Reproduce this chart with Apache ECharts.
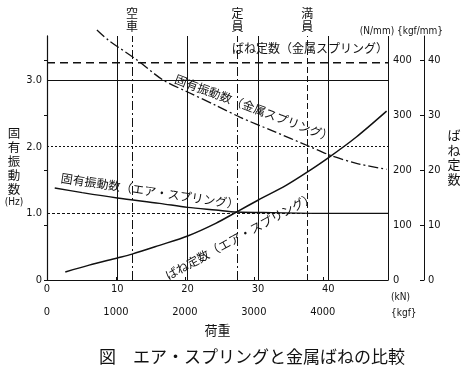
<!DOCTYPE html>
<html>
<head>
<meta charset="utf-8">
<script src="https://cdn.jsdelivr.net/npm/echarts@6/dist/echarts.min.js"></script>
<style>
html, body { margin: 0; padding: 0; background: #fff; }
#chart { width: 475px; height: 376px; }
</style>
</head>
<body>
<div id="chart"></div>
<script>
// 軸の範囲
var kNMax = 48.5
var kgfMax = kNMax / 9.80665 * 1000
var hzMax = 3.66
var nmmMax = 443.6

var kNTicks = [0, 10, 20, 30, 40]
var kgfTicks = [0, 1000, 2000, 3000, 4000]
var hzTicks = [0, 1, 2, 3]
var nmmTicks = [0, 100, 200, 300, 400]
var kgfmmTicks = [0, 10, 20, 30, 40]

// 固有振動数(金属スプリング)
var metalFreqKN = [7.1, 8.7, 12.8, 16.5, 20, 24, 27.5, 32, 37.4, 40.3, 44, 48.3]
var metalFreqHz = [3.75, 3.6, 3.3, 3.0, 2.82, 2.62, 2.44, 2.24, 2.0, 1.87, 1.75, 1.66]

// 固有振動数(エア・スプリング)
var airFreqKN = [1.1, 5, 10, 16, 20, 24, 27, 32, 40, 48.5]
var airFreqHz = [1.38, 1.31, 1.23, 1.15, 1.09, 1.05, 1.02, 1.01, 1.0, 1.0]

// ばね定数(エア・スプリング)
var airKKN = [2.6, 6, 10, 12.1, 16, 20, 24, 27, 30, 34, 37, 40, 44, 48.3]
var airKNmm = [14.5, 27, 40, 47, 63, 80, 103, 124, 145, 172, 196, 222, 260, 307]

// ばね定数(金属スプリング)
var metalKKN = [0, 48.5]
var metalKNmm = [395, 395]

// 空車・定員・満員
var loadMarks = [12.1, 27.1, 37.0]
var loadNames = ['空車', '定員', '満員']

var ink = '#111'
var numFont = '"Liberation Sans Narrow", "DejaVu Sans Condensed", sans-serif'
var jpFont = '"Noto Sans CJK JP", sans-serif'

function pairs(xs, ys) {
	return xs.map((x, i) => [x, ys[i]])
}

var vLines = loadMarks.map((v, i) => ({
	xAxis: v,
	lineStyle: { type: i == 2 ? [6, 3] : [9, 3, 2, 3] },
	label: { show: true, formatter: loadNames[i].split('').join('\n') }
}))
var hLines = [
	{ yAxis: 3, lineStyle: { type: 'solid' } },
	{ yAxis: 2, lineStyle: { type: [2, 2] } },
	{ yAxis: 1, lineStyle: { type: [3, 2] } }
]

var numLabel = { fontSize: 11, color: ink, fontFamily: numFont }

function jpText(text, x, y, size, rot, align) {
	return {
		type: 'text', x: x, y: y, rotation: rot || 0, silent: true,
		style: {
			text: text, fontSize: size, fontFamily: jpFont, fill: ink,
			align: align || 'center', verticalAlign: 'middle', lineHeight: size + 1.5
		}
	}
}

function smallText(text, x, y, align) {
	return {
		type: 'text', x: x, y: y, silent: true,
		style: { text: text, fontSize: 10, fontFamily: numFont, fill: ink, align: align || 'center', verticalAlign: 'middle' }
	}
}

var option = {
	animation: false,
	backgroundColor: '#fff',
	title: {
		text: '図　エア・スプリングと金属ばねの比較',
		left: 94, top: 343,
		textStyle: { fontSize: 17, fontWeight: 'normal', color: ink, fontFamily: jpFont }
	},
	grid: { left: 47, right: 87, top: 36, bottom: 96 },
	xAxis: [{
		type: 'value', min: 0, max: kNMax, interval: 10, position: 'bottom',
		axisLine: { show: true, lineStyle: { color: ink, type: [2, 2] } },
		axisTick: { show: false },
		axisLabel: Object.assign({ customValues: kNTicks, margin: 4 }, numLabel),
		splitLine: { show: true, lineStyle: { color: ink, width: 1 } }
	}, {
		type: 'value', min: 0, max: kgfMax, interval: 1000, position: 'bottom', offset: 20,
		name: '荷重', nameLocation: 'middle', nameGap: 24,
		nameTextStyle: { fontSize: 13, color: ink, fontFamily: jpFont },
		axisLine: { show: true, lineStyle: { color: ink } },
		axisTick: { show: true, inside: true, length: 3, customValues: kgfTicks, lineStyle: { color: ink } },
		axisLabel: Object.assign({ customValues: kgfTicks, margin: 7, formatter: v => String(v) }, numLabel),
		splitLine: { show: false }
	}],
	yAxis: [{
		type: 'value', position: 'left', min: 0, max: hzMax, interval: 1,
		axisLine: { show: true, lineStyle: { color: ink, width: 1.2 } },
		axisTick: { show: false },
		axisLabel: Object.assign({
			customValues: hzTicks, margin: 5,
			formatter: v => v == 0 ? '0' : v.toFixed(1)
		}, numLabel),
		splitLine: { show: false }
	}, {
		type: 'value', position: 'right', min: 0, max: nmmMax, interval: 100,
		axisLine: { show: true, lineStyle: { color: ink } },
		axisTick: { show: true, inside: true, length: 3, customValues: nmmTicks, lineStyle: { color: ink } },
		axisLabel: Object.assign({ customValues: nmmTicks, margin: 5 }, numLabel),
		splitLine: { show: false }
	}, {
		type: 'value', position: 'right', offset: 36, min: 0, max: nmmMax / 10, interval: 10,
		axisLine: { show: true, lineStyle: { color: ink } },
		axisTick: { show: true, inside: true, length: 4, customValues: kgfmmTicks, lineStyle: { color: ink } },
		axisLabel: Object.assign({ customValues: kgfmmTicks, margin: 4 }, numLabel),
		splitLine: { show: false }
	}],
	series: [{
		name: '固有振動数(金属スプリング)', type: 'line', yAxisIndex: 0, clip: false,
		data: pairs(metalFreqKN, metalFreqHz), smooth: 0.3, symbol: 'none',
		lineStyle: { color: ink, width: 1.3, type: [10, 3, 2, 3] }
	}, {
		name: '固有振動数(エア・スプリング)', type: 'line', yAxisIndex: 0,
		data: pairs(airFreqKN, airFreqHz), smooth: 0.3, symbol: 'none',
		lineStyle: { color: ink, width: 1.4 },
		markLine: {
			silent: true, symbol: ['none', 'none'],
			lineStyle: { color: ink, width: 1 },
			label: {
				show: false, position: 'end', distance: 3,
				fontSize: 12, lineHeight: 13, color: ink, fontFamily: jpFont
			},
			data: vLines.concat(hLines)
		}
	}, {
		name: 'ばね定数(エア・スプリング)', type: 'line', yAxisIndex: 1,
		data: pairs(airKKN, airKNmm), smooth: 0.3, symbol: 'none',
		lineStyle: { color: ink, width: 1.5 }
	}, {
		name: 'ばね定数(金属スプリング)', type: 'line', yAxisIndex: 1,
		data: pairs(metalKKN, metalKNmm), symbol: 'none',
		lineStyle: { color: ink, width: 1.3, type: [8, 5] }
	}],
	graphic: [
		jpText('固有振動数（金属スプリング）', 254, 108, 12, -0.36),
		jpText('固有振動数（エア・スプリング）', 150, 191, 12, -0.148),
		jpText('ばね定数（エア・スプリング）', 240, 236, 12, 0.5),
		jpText('ばね定数（金属スプリング）', 388, 48, 12, 0, 'right'),
		jpText('固\n有\n振\n動\n数', 14, 161, 12.5),
		smallText('(Hz)', 14, 202),
		jpText('ば\nね\n定\n数', 454, 157, 13),
		smallText('(N/mm)', 377, 31),
		smallText('{kgf/mm}', 420, 31),
		smallText('(kN)', 391, 297, 'left'),
		smallText('{kgf}', 391, 313, 'left')
	]
}

var chart = echarts.init(document.getElementById('chart'))
chart.setOption(option)
</script>
</body>
</html>
